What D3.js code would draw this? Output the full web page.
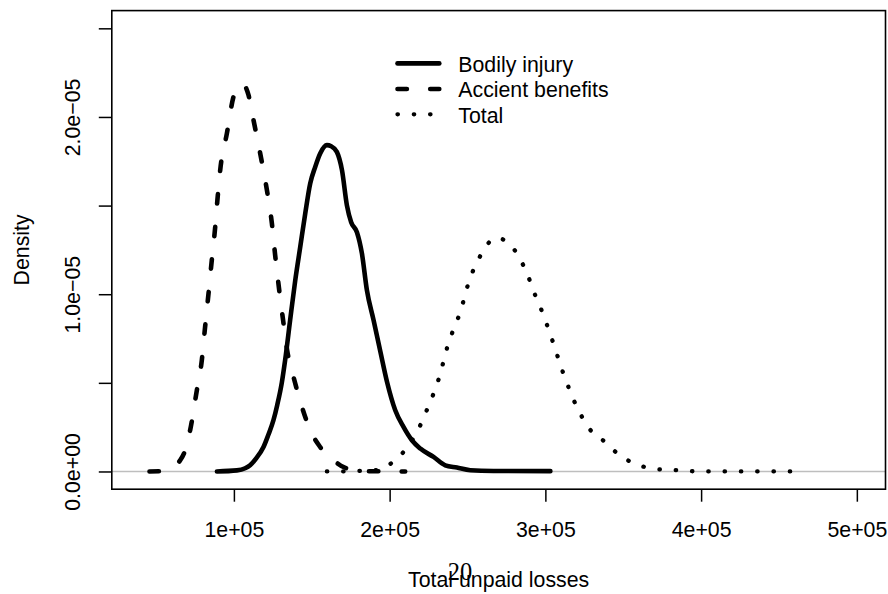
<!DOCTYPE html>
<html><head><meta charset="utf-8">
<script src="https://cdn.jsdelivr.net/npm/d3@7"></script>
<style>
body{margin:0;background:#fff}
svg text{font-family:"Liberation Sans",Arial,Helvetica,sans-serif;fill:#000}
</style>
</head><body>
<svg id="chart" width="888" height="594"></svg>
<script>
// ---- data (x in dollars, density in units of 1e-5) ----
const seriesNames = ["Bodily injury", "Accient benefits", "Total"];

const bodilyX = [89100,101900,107200,110400,114300,119000,122000,125400,127800,130800,132900,136100,139400,142600,145800,149000,152200,155400,159700,162500,166100,169400,172600,175300,179000,182200,185400,189700,194000,198300,203600,208900,214300,219700,228200,235700,243200,251800,266700,303200];
const bodilyY = [0,0.006,0.018,0.035,0.074,0.138,0.204,0.289,0.374,0.503,0.628,0.853,1.079,1.267,1.455,1.625,1.718,1.794,1.841,1.835,1.803,1.700,1.500,1.406,1.350,1.230,1.023,0.853,0.678,0.506,0.345,0.251,0.176,0.129,0.082,0.035,0.022,0.007,0.003,0.002];

const accidentX = [45800,53900,60300,65500,68700,71900,76200,79400,81500,83700,85800,88000,89400,91200,95500,99700,102700,105800,109400,112600,116900,121200,124400,126500,129100,131600,134200,138300,143700,149000,155400,164000,170400,177900,184300,194000,210000];
const accidentY = [0,0.002,0.027,0.063,0.120,0.233,0.458,0.628,0.815,1.004,1.192,1.380,1.530,1.700,1.907,2.113,2.174,2.185,2.123,1.982,1.794,1.587,1.399,1.220,1.023,0.853,0.684,0.533,0.364,0.233,0.138,0.063,0.025,0.007,0.002,0.001,0];

const totalX = [159700,170400,180000,190700,200800,208500,219700,223800,227800,231400,234200,236800,240200,244100,247300,250000,253500,258200,263800,269100,273600,280900,286000,290100,293700,297800,301400,304900,308100,311500,315200,319200,323900,329800,338000,345700,354600,364300,374600,385100,395500,406100,458600];
const totalY = [0,0,0.003,0.007,0.045,0.106,0.261,0.345,0.430,0.519,0.608,0.695,0.783,0.869,0.958,1.045,1.131,1.216,1.292,1.319,1.305,1.241,1.160,1.075,0.989,0.904,0.818,0.729,0.643,0.554,0.468,0.383,0.302,0.224,0.169,0.106,0.055,0.024,0.011,0.007,0.001,0,0];

const xTicks = [100000, 200000, 300000, 400000, 500000];
const xTickLabels = ["1e+05", "2e+05", "3e+05", "4e+05", "5e+05"];
const yTicks = [0, 0.5, 1, 1.5, 2, 2.5];
const yTickLabels = ["0.0e+00", "", "1.0e\u221205", "", "2.0e\u221205", ""];
const xTitle = "Total unpaid losses";
const yTitle = "Density";
const pageNumber = "20";

// ---- layout ----
const L = 111.8, R = 885.5, T = 10.6, B = 489.2;
const FS = 21.3;
const svg = d3.select("#chart");
svg.append("rect").attr("width", 888).attr("height", 594).attr("fill", "#fff");

const x = d3.scaleLinear().domain([21600, 518400]).range([L, R]);
const y = d3.scaleLinear().domain([-0.1, 2.6]).range([B, T]);

// zero reference line
svg.append("line").attr("x1", L).attr("x2", R).attr("y1", y(0)).attr("y2", y(0))
  .attr("stroke", "#bebebe").attr("stroke-width", 1.5);

const line = d3.line().x(d => x(d[0])).y(d => y(d[1])).curve(d3.curveMonotoneX);
const styles = [
  {w: 4.6, dash: null},
  {w: 4.6, dash: "9.4,23.3"},
  {w: 4.3, dash: "0.4,15.9"}
];
const data = [d3.zip(bodilyX, bodilyY), d3.zip(accidentX, accidentY), d3.zip(totalX, totalY)];
data.forEach((pts, i) => {
  svg.append("path").attr("d", line(pts)).attr("fill", "none")
    .attr("stroke", "#000").attr("stroke-width", styles[i].w)
    .attr("stroke-linecap", "round").attr("stroke-linejoin", "round")
    .attr("stroke-dasharray", styles[i].dash);
});

// box
svg.append("rect").attr("x", L).attr("y", T).attr("width", R - L).attr("height", B - T)
  .attr("fill", "none").attr("stroke", "#000").attr("stroke-width", 1.6);

// x axis
const xAxis = svg.append("g").attr("transform", `translate(0,${B})`)
  .call(d3.axisBottom(x).tickValues(xTicks).tickFormat((d, i) => xTickLabels[i])
    .tickSize(12.5).tickSizeOuter(0));
xAxis.select(".domain").remove();
xAxis.selectAll(".tick line").attr("stroke", "#000").attr("stroke-width", 1.5);
xAxis.selectAll(".tick text").attr("y", 47.5).attr("dy", null)
  .attr("font-size", FS).attr("fill", "#000").style("font-family", '"Liberation Sans",Arial,sans-serif');

// y axis
const yAxis = svg.append("g").attr("transform", `translate(${L},0)`)
  .call(d3.axisLeft(y).tickValues(yTicks).tickFormat((d, i) => yTickLabels[i])
    .tickSize(13).tickSizeOuter(0));
yAxis.select(".domain").remove();
yAxis.selectAll(".tick line").attr("stroke", "#000").attr("stroke-width", 1.5);
yAxis.selectAll(".tick text").attr("x", null).attr("dy", null)
  .attr("transform", "translate(-32,0) rotate(-90)")
  .attr("text-anchor", "middle").attr("font-size", FS).attr("fill", "#000")
  .style("font-family", '"Liberation Sans",Arial,sans-serif');

// axis titles
svg.append("text").attr("x", (L + R) / 2).attr("y", 587.3).attr("text-anchor", "middle")
  .attr("font-size", FS).text(xTitle);
svg.append("text").attr("transform", `translate(28.5,${(T + B) / 2}) rotate(-90)`)
  .attr("text-anchor", "middle").attr("font-size", FS).text(yTitle);

// page number overlay (serif)
svg.append("text").attr("x", 460).attr("y", 580).attr("text-anchor", "middle")
  .attr("font-size", 24.5).style("font-family", '"Liberation Serif","Times New Roman",serif')
  .text(pageNumber);

// legend
const legY = [63.4, 89.0, 114.3];
seriesNames.forEach((name, i) => {
  svg.append("line").attr("x1", 397.5).attr("x2", 439.3).attr("y1", legY[i]).attr("y2", legY[i])
    .attr("stroke", "#000").attr("stroke-width", styles[i].w)
    .attr("stroke-linecap", "round").attr("stroke-dasharray", styles[i].dash);
  svg.append("text").attr("x", 458.3).attr("y", legY[i] + 8.2).attr("font-size", FS).text(name);
});
</script>
</body></html>
